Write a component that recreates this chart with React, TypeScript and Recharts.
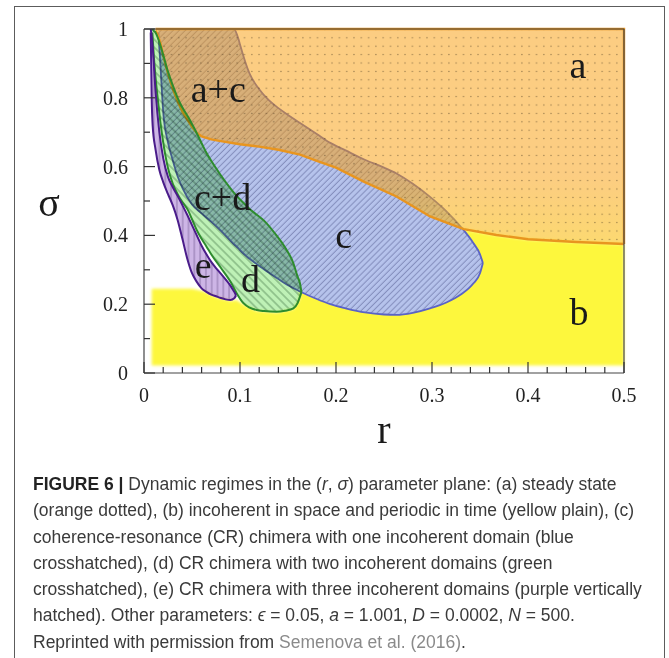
import React from 'react';
import { ComposedChart, Area, Scatter, XAxis, YAxis, Label } from 'recharts';

// tick positions + labels
const xTicks = [0, 0.02, 0.04, 0.06, 0.08, 0.1, 0.12, 0.14, 0.16, 0.18, 0.2, 0.22, 0.24, 0.26, 0.28, 0.3, 0.32, 0.34, 0.36, 0.38, 0.4, 0.42, 0.44, 0.46, 0.48, 0.5];
const xTickLabels = ['0', '0.1', '0.2', '0.3', '0.4', '0.5'];
const yTicks = [0, 0.1, 0.2, 0.3, 0.4, 0.5, 0.6, 0.7, 0.8, 0.9, 1];
const yTickLabels = ['0', '0.2', '0.4', '0.6', '0.8', '1'];

// (b) yellow plain region: r, lower sigma, upper sigma
const bR = [0.008, 0.05, 0.062, 0.075, 0.09, 0.0965, 0.1035, 0.1174, 0.138, 0.1556, 0.162, 0.166, 0.2, 0.23, 0.263, 0.298, 0.333, 0.367, 0.4, 0.45, 0.5];
const bLow = [0.022, 0.022, 0.022, 0.022, 0.022, 0.022, 0.022, 0.022, 0.022, 0.022, 0.022, 0.022, 0.022, 0.022, 0.022, 0.022, 0.022, 0.022, 0.022, 0.022, 0.022];
const bHigh = [0.245, 0.245, 0.238, 0.221, 0.21, 0.212, 0.2, 0.181, 0.176, 0.186, 0.215, 0.6, 0.597, 0.555, 0.513, 0.455, 0.418, 0.401, 0.389, 0.381, 0.375];

// (a) steady state, orange dotted
const aR = [0.012, 0.014, 0.017, 0.021, 0.025, 0.03, 0.035, 0.04, 0.045, 0.05, 0.055, 0.06, 0.07, 0.08, 0.1, 0.12, 0.14, 0.1625, 0.18, 0.2, 0.23, 0.263, 0.298, 0.333, 0.367, 0.4, 0.45, 0.5, 0.5];
const aLow = [0.995, 0.985, 0.96, 0.912, 0.87, 0.826, 0.79, 0.76, 0.737, 0.716, 0.698, 0.688, 0.679, 0.674, 0.665, 0.658, 0.649, 0.635, 0.617, 0.597, 0.555, 0.513, 0.455, 0.418, 0.401, 0.389, 0.381, 0.375, 0.375];
const aHigh = [1, 1, 1, 1, 1, 1, 1, 1, 1, 1, 1, 1, 1, 1, 1, 1, 1, 1, 1, 1, 1, 1, 1, 1, 1, 1, 1, 1, 0.375];

// (c) CR chimera, one incoherent domain
const cR = [0.015, 0.017, 0.02, 0.025, 0.03, 0.035, 0.04, 0.05, 0.06, 0.07, 0.08, 0.09, 0.0935, 0.0985, 0.1, 0.11, 0.12, 0.13, 0.14, 0.15, 0.1625, 0.18, 0.194, 0.21, 0.23, 0.25, 0.263, 0.28, 0.298, 0.315, 0.33, 0.343, 0.35, 0.353];
const cLow = [0.99, 0.9, 0.76, 0.67, 0.618, 0.572, 0.538, 0.49, 0.464, 0.44, 0.414, 0.385, 0.375, 0.362, 0.357, 0.332, 0.311, 0.292, 0.273, 0.255, 0.237, 0.215, 0.2, 0.188, 0.176, 0.17, 0.169, 0.175, 0.188, 0.205, 0.228, 0.26, 0.29, 0.32];
const cHigh = [1, 1, 1, 1, 1, 1, 1, 1, 1, 1, 1, 1, 1, 0.97, 0.955, 0.87, 0.825, 0.793, 0.77, 0.75, 0.727, 0.695, 0.669, 0.647, 0.62, 0.597, 0.58, 0.55, 0.512, 0.47, 0.425, 0.378, 0.345, 0.32];

// (d) CR chimera, two incoherent domains
const dR = [0.0087, 0.01, 0.012, 0.015, 0.0174, 0.02, 0.025, 0.03, 0.035, 0.04, 0.046, 0.05, 0.055, 0.06, 0.065, 0.07, 0.08, 0.09, 0.0965, 0.1035, 0.11, 0.1174, 0.125, 0.138, 0.147, 0.1556, 0.16, 0.1625, 0.164];
const dLow = [0.99, 0.93, 0.86, 0.78, 0.721, 0.67, 0.595, 0.55, 0.52, 0.497, 0.472, 0.447, 0.415, 0.39, 0.368, 0.345, 0.306, 0.266, 0.232, 0.203, 0.19, 0.183, 0.18, 0.178, 0.181, 0.188, 0.203, 0.222, 0.235];
const dHigh = [1, 0.995, 0.99, 0.97, 0.95, 0.925, 0.876, 0.836, 0.8, 0.772, 0.744, 0.724, 0.697, 0.668, 0.64, 0.617, 0.575, 0.537, 0.515, 0.495, 0.477, 0.46, 0.443, 0.4, 0.365, 0.319, 0.28, 0.26, 0.235];

// (e) CR chimera, three incoherent domains
const eR = [0.007, 0.008, 0.009, 0.012, 0.016, 0.02, 0.025, 0.03, 0.035, 0.04, 0.045, 0.05, 0.055, 0.06, 0.065, 0.07, 0.075, 0.08, 0.085, 0.09, 0.094, 0.096];
const eLow = [0.99, 0.8, 0.72, 0.65, 0.59, 0.555, 0.52, 0.487, 0.445, 0.39, 0.333, 0.29, 0.265, 0.246, 0.236, 0.228, 0.223, 0.218, 0.214, 0.212, 0.217, 0.226];
const eHigh = [1, 0.98, 0.95, 0.82, 0.7, 0.625, 0.57, 0.54, 0.515, 0.488, 0.46, 0.43, 0.4, 0.37, 0.345, 0.323, 0.305, 0.289, 0.272, 0.254, 0.236, 0.227];

// region names, anchored at baseline centre (r, sigma)
const labelText = ['a', 'b', 'c', 'd', 'e', 'a+c', 'c+d'];
const labelR = [0.452, 0.453, 0.208, 0.111, 0.0616, 0.0774, 0.0818];
const labelS = [0.858, 0.14, 0.363, 0.236, 0.276, 0.789, 0.474];

const toRange = (r: number[], lo: number[], hi: number[]) => r.map((v, i) => ({ r: v, s: [lo[i], hi[i]] }));

const bData = toRange(bR, bLow, bHigh);
const aData = toRange(aR, aLow, aHigh);
const cData = toRange(cR, cLow, cHigh);
const dData = toRange(dR, dLow, dHigh);
const eData = toRange(eR, eLow, eHigh);
const labelData = labelText.map((t, i) => ({ r: labelR[i], s: labelS[i], text: t }));

const SERIF = '"Liberation Serif", "Times New Roman", serif';
const TICK = '#333';

const css = `
.mult .recharts-area-area { mix-blend-mode: multiply; }
.soft .recharts-area-area { filter: url(#soft); }
`;

const BottomTick = (props: any) => {
    const { x, y, payload } = props;
    const label = String(payload.value);
    const major = xTickLabels.includes(label);
    return (
        <g>
            <line x1={x} y1={y} x2={x} y2={y - (major ? 11 : 6)} stroke={TICK} strokeWidth={1.2} />
            {major && (
                <text x={x} y={y + 29} textAnchor="middle" fontFamily={SERIF} fontSize={20} fill="#222">{label}</text>
            )}
        </g>
    );
};

const TopTick = (props: any) => {
    const { x, y, payload } = props;
    const major = xTickLabels.includes(String(payload.value));
    return <line x1={x} y1={y} x2={x} y2={y + (major ? 11 : 6)} stroke="#6b5434" strokeWidth={1.1} />;
};

const LeftTick = (props: any) => {
    const { x, y, payload } = props;
    const label = String(payload.value);
    const major = yTickLabels.includes(label);
    return (
        <g>
            <line x1={x} y1={y} x2={x + (major ? 11 : 6)} y2={y} stroke={TICK} strokeWidth={1.2} />
            {major && (
                <text x={x - 16} y={y + 7} textAnchor="end" fontFamily={SERIF} fontSize={20} fill="#222">{label}</text>
            )}
        </g>
    );
};

const RightTick = (props: any) => {
    const { x, y, payload } = props;
    const major = yTickLabels.includes(String(payload.value));
    return <line x1={x} y1={y} x2={x - (major ? 11 : 6)} y2={y} stroke={TICK} strokeWidth={1.1} />;
};

const RegionLabel = (props: any) => {
    const { cx, cy, payload } = props;
    return (
        <text x={cx} y={cy} textAnchor="middle" fontFamily={SERIF} fontSize={38} fill="#1a1a1a">{payload.text}</text>
    );
};

// plot box: x 144..624, y 29..373
const ChartArea = () => (
    <ComposedChart width={669} height={460} margin={{ top: 28, right: 44, bottom: 27, left: 44 }}>
        <defs>
            <filter id="soft" x="-5%" y="-5%" width="110%" height="110%">
                <feGaussianBlur stdDeviation="1.6" />
            </filter>
            <linearGradient id="gradA" x1="0" y1="0" x2="0" y2="1">
                <stop offset="0" stopColor="#F99B05" stopOpacity={0.5} />
                <stop offset="0.68" stopColor="#F99B05" stopOpacity={0.5} />
                <stop offset="1" stopColor="#FAC012" stopOpacity={0.6} />
            </linearGradient>
            <pattern id="dotsA" width="7.3" height="8.4" patternUnits="userSpaceOnUse">
                <circle cx="3.6" cy="4.2" r="0.75" fill="#3a2c18" fillOpacity={0.5} />
            </pattern>
            <pattern id="hatchC" width="4.3" height="10" patternUnits="userSpaceOnUse" patternTransform="rotate(45)">
                <rect width="4.3" height="10" fill="#B6C3EC" />
                <line x1="2" y1="0" x2="2" y2="10" stroke="#7C86B6" strokeWidth="0.9" />
            </pattern>
            <pattern id="hatchD" width="5.6" height="10" patternUnits="userSpaceOnUse" patternTransform="rotate(-45)">
                <rect width="5.6" height="10" fill="#BEF1B6" />
                <line x1="2.8" y1="0" x2="2.8" y2="10" stroke="#5E8F5E" strokeWidth="0.9" />
            </pattern>
            <pattern id="hatchE" width="5.8" height="10" patternUnits="userSpaceOnUse">
                <rect width="5.8" height="10" fill="#CDB5E6" />
                <line x1="2.9" y1="0" x2="2.9" y2="10" stroke="#7C649A" strokeWidth="0.8" />
            </pattern>
        </defs>

        <XAxis dataKey="r" type="number" domain={[0, 0.5]} ticks={xTicks} interval={0} height={60}
            tickSize={0} tickMargin={0} tickLine={false} axisLine={{ stroke: '#444', strokeWidth: 1.2 }}
            tick={(p: any) => <BottomTick {...p} />}>
            <Label content={(p: any) => (
                <text x={p.viewBox.x + p.viewBox.width / 2} y={p.viewBox.y + 70} textAnchor="middle"
                    fontFamily={SERIF} fontSize={40} fill="#1a1a1a">r</text>
            )} />
        </XAxis>
        <XAxis xAxisId="top" orientation="top" dataKey="r" type="number" domain={[0, 0.5]} ticks={xTicks} interval={0}
            height={1} tickSize={0} tickMargin={0} tickLine={false} axisLine={{ stroke: '#444', strokeWidth: 1.2 }}
            tick={(p: any) => <TopTick {...p} />} zIndex={700} />
        <YAxis type="number" domain={[0, 1]} ticks={yTicks} interval={0} width={100}
            tickSize={0} tickMargin={0} tickLine={false} axisLine={{ stroke: '#444', strokeWidth: 1.2 }}
            tick={(p: any) => <LeftTick {...p} />}>
            <Label content={(p: any) => (
                <text x={p.viewBox.x + p.viewBox.width - 95} y={p.viewBox.y + 187} textAnchor="middle"
                    fontFamily={SERIF} fontSize={40} fill="#1a1a1a">σ</text>
            )} />
        </YAxis>
        <YAxis yAxisId="right" orientation="right" type="number" domain={[0, 1]} ticks={yTicks} interval={0} width={1}
            tickSize={0} tickMargin={0} tickLine={false} axisLine={{ stroke: '#444', strokeWidth: 1.2 }}
            tick={(p: any) => <RightTick {...p} />} zIndex={700} />

        <Area className="soft" data={bData} dataKey="s" type="linear" fill="#FDF73C" fillOpacity={1}
            stroke="none" dot={false} activeDot={false} isAnimationActive={false} />
        <Area data={cData} dataKey="s" type="monotone" fill="url(#hatchC)" fillOpacity={1}
            stroke="#5A63C6" strokeWidth={1.8} dot={false} activeDot={false} isAnimationActive={false} />
        <Area data={aData} dataKey="s" type="linear" fill="url(#gradA)" fillOpacity={1}
            stroke="none" dot={false} activeDot={false} isAnimationActive={false} />
        <Area data={aData} dataKey="s" type="linear" fill="url(#dotsA)" fillOpacity={1}
            stroke="#E8951F" strokeWidth={2.4} dot={false} activeDot={false} isAnimationActive={false} />
        <Area className="mult" data={dData} dataKey="s" type="monotone" fill="url(#hatchD)" fillOpacity={1}
            stroke="#2E8C2E" strokeWidth={2} dot={false} activeDot={false} isAnimationActive={false} />
        <Area className="mult" data={eData} dataKey="s" type="monotone" fill="url(#hatchE)" fillOpacity={1}
            stroke="#4A1C8A" strokeWidth={2} dot={false} activeDot={false} isAnimationActive={false} />

        <Scatter data={labelData} dataKey="s" shape={(p: any) => <RegionLabel {...p} />} isAnimationActive={false} />
    </ComposedChart>
);

export default function App() {
    return (
        <div style={{ position: 'absolute', left: 0, top: 0, width: 669, height: 658, overflow: 'hidden', background: '#fff' }}>
            <style>{css}</style>
            {/* figure frame, its bottom edge is cut off by the crop */}
            <div style={{ position: 'absolute', left: 14, top: 6, width: 651, height: 720, boxSizing: 'border-box', border: '1.5px solid #5c5c5c' }} />
            <div style={{ position: 'absolute', left: 0, top: 0 }}>
                <ChartArea />
            </div>
            <div style={{
                position: 'absolute', left: 33, top: 471, fontFamily: '"Liberation Sans", Arial, sans-serif',
                fontSize: 17.5, lineHeight: '26.3px', color: '#3a3a3a', whiteSpace: 'nowrap'
            }}>
                <div><b style={{ color: '#222' }}>FIGURE 6 |</b> Dynamic regimes in the (<i>r</i>, <i>σ</i>) parameter plane: (a) steady state</div>
                <div>(orange dotted), (b) incoherent in space and periodic in time (yellow plain), (c)</div>
                <div>coherence-resonance (CR) chimera with one incoherent domain (blue</div>
                <div>crosshatched), (d) CR chimera with two incoherent domains (green</div>
                <div>crosshatched), (e) CR chimera with three incoherent domains (purple vertically</div>
                <div>hatched). Other parameters: <i>ϵ</i> = 0.05, <i>a</i> = 1.001, <i>D</i> = 0.0002, <i>N</i> = 500.</div>
                <div>Reprinted with permission from <span style={{ color: '#8a8a8a' }}>Semenova et al. (2016)</span>.</div>
            </div>
        </div>
    );
}
